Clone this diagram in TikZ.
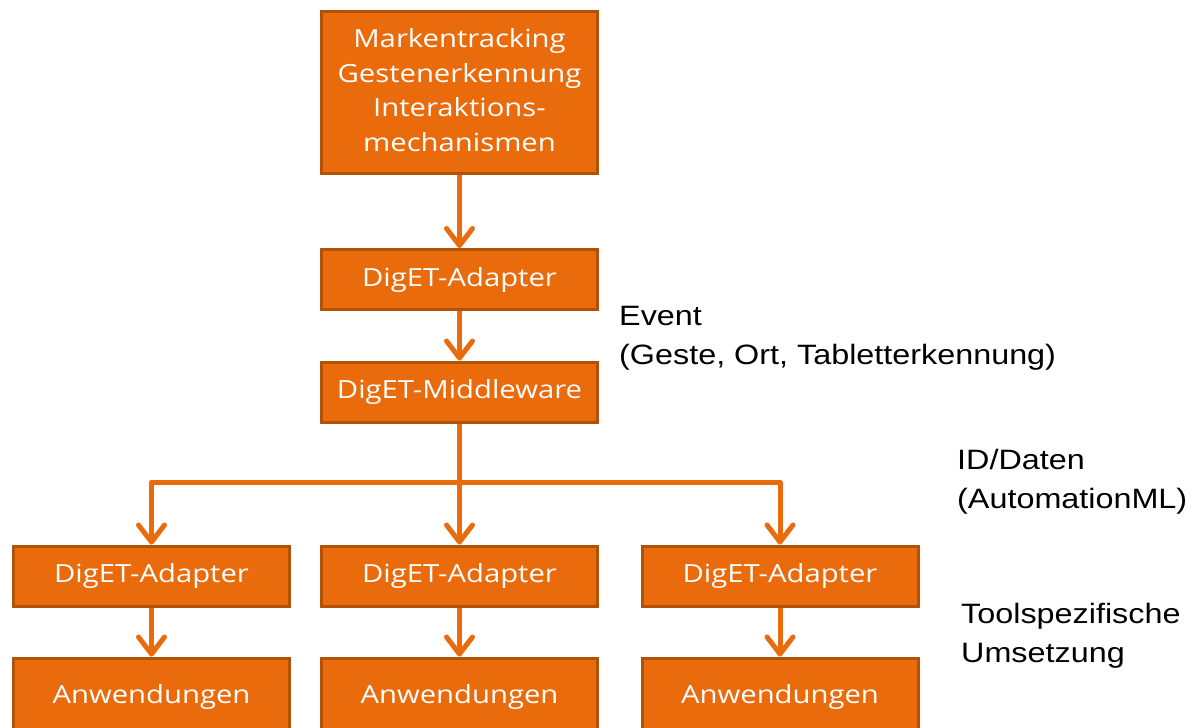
\documentclass[tikz,border=0pt]{standalone}
\usepackage{fontspec}
\setmainfont{Liberation Sans}
\newfontfamily\boxfont{Open Sans}
\usetikzlibrary{arrows.meta}
\definecolor{boxfill}{RGB}{234,107,12}
\definecolor{boxline}{RGB}{178,82,6}
% box lettering, stretched a little in width
\newcommand{\boxtext}[1]{\scalebox{1.17}[1]{\begin{tabular}{@{}c@{}}#1\end{tabular}}}
% side notes, first line on the node's baseline
\newcommand{\notetext}[1]{\scalebox{1.155}[1]{\begin{tabular}[t]{@{}l@{}}#1\end{tabular}}}
\begin{document}
\begin{tikzpicture}[x=1pt,y=-1pt,
  stagebox/.style={draw=boxline,fill=boxfill,line width=3pt,text=white,
    inner sep=0pt,minimum width=276pt,minimum height=60pt,
    font=\boxfont\fontsize{25}{34.5}\selectfont},
  flow/.style={draw=boxfill,line width=5pt,line join=round,
    -{Straight Barb[length=17pt,width=26pt,line cap=round,line join=round]}},
  note/.style={anchor=base west,inner sep=0pt,
    font=\fontsize{28}{39}\selectfont}]
\useasboundingbox (0,0) rectangle (1192,728);

% processing chain
\node[stagebox,minimum height=162pt] (core) at (459.5,92.5)
  {\boxtext{Markentracking\\Gestenerkennung\\Interaktions-\\mechanismen}};
\node[stagebox] (adapter) at (459.5,279.5) {\boxtext{DigET-Adapter}};
\node[stagebox] (mw) at (459.5,392) {\boxtext{DigET-Middleware}};

% tool adapters
\node[stagebox] (adl) at (151.5,576) {\boxtext{DigET-Adapter}};
\node[stagebox] (adm) at (459.5,576) {\boxtext{DigET-Adapter}};
\node[stagebox] (adr) at (780,576) {\boxtext{DigET-Adapter}};

% applications
\node[stagebox,minimum height=78pt] (apl) at (151.5,697) {\boxtext{Anwendungen}};
\node[stagebox,minimum height=78pt] (apm) at (459.5,697) {\boxtext{Anwendungen}};
\node[stagebox,minimum height=78pt] (apr) at (780,697) {\boxtext{Anwendungen}};

% connectors
\coordinate (split) at (459.5,482);
\draw[flow] (core.south) -- (adapter.north);
\draw[flow] (adapter.south) -- (mw.north);
\draw[flow] (mw.south) -- (adm.north);
\draw[flow] (split) -| (adl.north);
\draw[flow] (split) -| (adr.north);
\draw[flow] (adl.south) -- (apl.north);
\draw[flow] (adm.south) -- (apm.north);
\draw[flow] (adr.south) -- (apr.north);

% side notes
\node[note] (evt) at (619,325) {\notetext{Event\\(Geste, Ort, Tabletterkennung)}};
\node[note] (ids) at (957,469) {\notetext{ID/Daten\\(AutomationML)}};
\node[note] (tool) at (961,623) {\notetext{Toolspezifische\\Umsetzung}};
\end{tikzpicture}
\end{document}
